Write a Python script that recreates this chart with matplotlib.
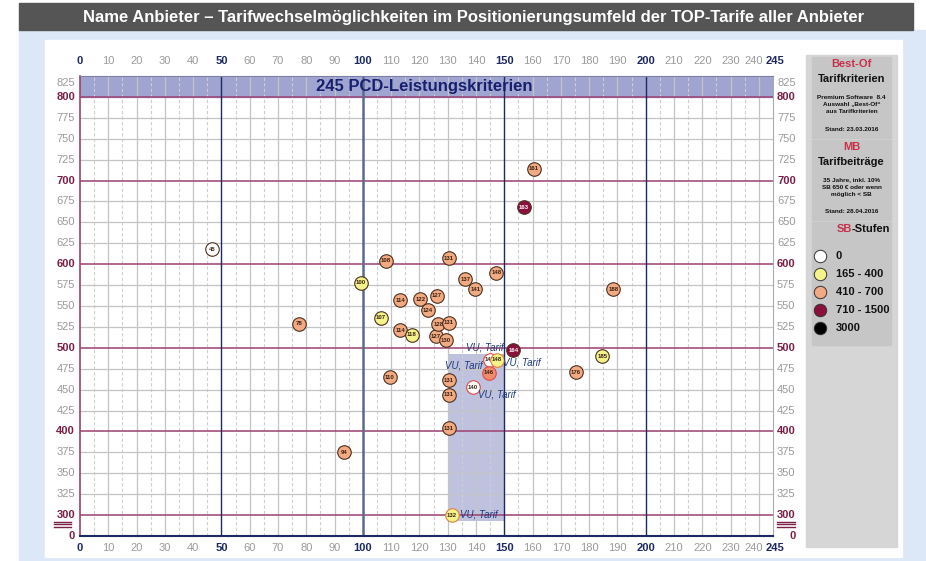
import matplotlib
matplotlib.use('Agg')
import matplotlib.pyplot as plt
from matplotlib.patches import Rectangle
from matplotlib.lines import Line2D
import matplotlib.transforms as mtransforms

plt.rcParams['font.family'] = ['Liberation Sans', 'DejaVu Sans']

# ---------------- data ----------------
title = "Name Anbieter – Tarifwechselmöglichkeiten im Positionierungsumfeld der TOP-Tarife aller Anbieter"
band_text = "245 PCD-Leistungskriterien"

point_labels = ["45", "78", "94", "100", "107", "108", "110", "114", "114", "118",
                "122", "124", "127", "127", "128", "130", "131", "131", "131", "131",
                "131", "132", "137", "140", "141", "145", "146", "148", "148", "161",
                "163", "164", "176", "185", "188"]
point_x = [46.6, 77.5, 93.3, 99.2, 106.4, 108.2, 109.5, 113.2, 113.3, 117.3,
           120.3, 123.0, 126.1, 125.8, 126.7, 129.4, 130.5, 130.5, 130.3, 130.3,
           130.3, 131.4, 136.2, 139.0, 139.8, 144.9, 144.6, 147.3, 147.2, 160.4,
           156.8, 153.2, 175.3, 184.7, 188.6]
point_y = [618, 529, 375, 578, 536, 604, 465, 557, 521, 515.5,
           558, 545, 562, 514, 528, 509, 607, 530, 461, 444,
           404, 300, 582, 453, 570, 486, 470, 486, 590, 714,
           668, 497, 471, 490, 570]
# SB-Stufe category: 0 -> "0", 1 -> "165 - 400", 2 -> "410 - 700", 3 -> "710 - 1500", 4 -> "3000"
point_sb = [0, 2, 2, 1, 1, 2, 2, 2, 2, 1,
            2, 2, 2, 2, 2, 2, 2, 2, 2, 2,
            2, 1, 2, 0, 2, 0, 2, 1, 2, 2,
            3, 3, 2, 1, 2]
# own tariffs of the provider: 1 = marked "VU, Tarif", 2 = own without text
point_own = [0, 0, 0, 0, 0, 0, 0, 0, 0, 0,
             0, 0, 0, 0, 0, 0, 0, 0, 0, 0,
             0, 1, 0, 1, 0, 1, 2, 1, 0, 0,
             0, 1, 0, 0, 0]

sb_names = ["0", "165 - 400", "410 - 700", "710 - 1500", "3000"]

x_ticks = list(range(0, 241, 10)) + [245]
x_bold = [0, 50, 100, 150, 200, 245]
y_ticks = list(range(300, 826, 25))
y_zero_pos = 275
highlight_x = (130, 150)
highlight_y = (293, 493)

# ---------------- style ----------------
sb_colors = ["#ffffff", "#f3f38a", "#f2aa82", "#8c0f3c", "#000000"]
navy = "#1c2a64"
maroon = "#7a1f45"
hline_col = "#9c4070"
gray_lab = "#9a9a9a"

W, H = 926, 561
fig = plt.figure(figsize=(W / 100, H / 100), dpi=100)

# background (pixel coordinates)
bg = fig.add_axes([0, 0, 1, 1], zorder=-5)
bg.set_xlim(0, W)
bg.set_ylim(H, 0)
bg.axis('off')
bg.add_patch(Rectangle((19, 30), W - 19, H - 30, color="#dce8f8"))
bg.add_patch(Rectangle((45, 40), 857, 517, color="white"))
bg.add_patch(Rectangle((19, 3), 894, 27, color="#555555"))
bg.text(474, 17, title, color="white", fontsize=12, fontweight="bold",
        ha="center", va="center")

# legend panel
bg.add_patch(Rectangle((806, 55), 91, 492, color="#d6d6d6"))
for (yy, hh) in [(57, 81), (140, 80), (222, 123)]:
    bg.add_patch(Rectangle((812, yy), 79, hh, color="#c6c6c6"))
crim = "#c8304a"
cx = 851.5
bg.text(cx, 64, "Best-Of", color=crim, fontsize=8, fontweight="bold", ha="center", va="center")
bg.text(cx, 79, "Tarifkriterien", color="#111111", fontsize=8, fontweight="bold", ha="center", va="center")
for yy, t in [(97, "Premium Software  8.4"), (104, "Auswahl „Best-Of“"), (111, "aus Tarifkriterien"),
              (129, "Stand: 23.03.2016")]:
    bg.text(cx, yy, t, color="#111111", fontsize=4.6, fontweight="bold", ha="center", va="center")
bg.text(cx, 147, "MB", color=crim, fontsize=8, fontweight="bold", ha="center", va="center")
bg.text(cx, 162, "Tarifbeiträge", color="#111111", fontsize=8, fontweight="bold", ha="center", va="center")
for yy, t in [(180, "35 Jahre, inkl. 10%"), (187, "SB 650 € oder wenn"), (194, "möglich < SB"),
              (211, "Stand: 28.04.2016")]:
    bg.text(cx, yy, t, color="#111111", fontsize=4.6, fontweight="bold", ha="center", va="center")
bg.text(852, 229, "SB", color=crim, fontsize=8, fontweight="bold", ha="right", va="center")
bg.text(852, 229, "-Stufen", color="#111111", fontsize=8, fontweight="bold", ha="left", va="center")
for i, name in enumerate(sb_names):
    yy = 256 + i * 18
    bg.scatter([820], [yy], s=80, facecolor=sb_colors[i], edgecolor="#333333", linewidth=0.7, zorder=3)
    bg.text(836, yy, name, color="#111111", fontsize=8, fontweight="bold", ha="left", va="center")

# axis break marks
for yy in (521.5, 524.3, 527):
    bg.add_line(Line2D([54, 71], [yy, yy], color=maroon, lw=1.0))
    bg.add_line(Line2D([777, 795], [yy, yy], color=maroon, lw=1.0))

# ---------------- main axes ----------------
ax = fig.add_axes([80 / W, 1 - 536 / H, 693 / W, 460 / H])
ax.set_xlim(0, 245)
ax.set_ylim(y_zero_pos, 825)
ax.set_xticks([])
ax.set_yticks([])

# band at top
ax.axhspan(800, 825, color="#a0a4d0", zorder=0.3)
ax.text(121.8, 812.5, band_text, ha="center", va="center", fontsize=12,
        fontweight="bold", color="#16206e", zorder=4)
# highlight region
ax.add_patch(Rectangle((highlight_x[0], highlight_y[0]), highlight_x[1] - highlight_x[0],
                       highlight_y[1] - highlight_y[0], facecolor="#b4b8da", alpha=0.85,
                       edgecolor="none", zorder=0.4))

# grid
for x in range(5, 245, 10):
    ax.axvline(x, color="#cfcfcf", lw=0.8, ls=(0, (3, 2)), zorder=1)
for x in range(10, 241, 10):
    if x % 50:
        ax.axvline(x, color="#c4c4c4", lw=0.9, zorder=1)
for y in y_ticks:
    if y % 100:
        ax.axhline(y, color="#c4c4c4", lw=0.9, zorder=1)
for y in y_ticks:
    if y % 100 == 0:
        ax.axhline(y, color=hline_col, lw=1.1, zorder=1.5)
for x in (50, 150, 200):
    ax.axvline(x, color=navy, lw=1.0, zorder=1.6)
ax.axvline(100, color="#5b6b8c", lw=1.8, zorder=1.6)

for side, col, lw in [("left", hline_col, 1.2), ("bottom", navy, 1.5),
                      ("right", "#aaaaaa", 0.8), ("top", "#7a7eaa", 0.8)]:
    ax.spines[side].set_color(col)
    ax.spines[side].set_linewidth(lw)

# x tick labels (top and bottom)
xt = ax.get_xaxis_transform()
for v in x_ticks:
    bold = v in x_bold
    dx = -5 if v == 240 else (2 if v == 245 else 0)
    for yax, dy in ((1, 15), (0, -12)):
        tr = mtransforms.offset_copy(xt, fig=fig, x=dx, y=dy, units="dots")
        ax.text(v, yax, str(v), transform=tr, ha="center", va="center", fontsize=8,
                fontweight="bold" if bold else "normal", color=navy if bold else gray_lab,
                clip_on=False)

# y tick labels (left and right)
yt = ax.get_yaxis_transform()
for v in y_ticks + [y_zero_pos]:
    bold = (v % 100 == 0) or v == y_zero_pos
    lab = "0" if v == y_zero_pos else str(v)
    dy = -7 if v == 825 else 0
    kw = dict(va="center", fontsize=8, fontweight="bold" if bold else "normal",
              color=maroon if bold else gray_lab, clip_on=False)
    trl = mtransforms.offset_copy(yt, fig=fig, x=-5, y=dy, units="dots")
    ax.text(0, v, lab, transform=trl, ha="right", **kw)
    if v == y_zero_pos:
        trr = mtransforms.offset_copy(yt, fig=fig, x=23, y=dy, units="dots")
        ax.text(1, v, lab, transform=trr, ha="right", **kw)
    else:
        trr = mtransforms.offset_copy(yt, fig=fig, x=4, y=dy, units="dots")
        ax.text(1, v, lab, transform=trr, ha="left", **kw)

# points
for i, (lab, x, y, sb, own) in enumerate(zip(point_labels, point_x, point_y, point_sb, point_own)):
    ec = "#4a3020"
    fc = sb_colors[sb]
    if own and sb in (0, 2):
        ec = "#e04848"
    elif own and sb == 1:
        ec = "#e08040"
    if own == 2:
        fc = "#f08c6c"
    z = 5 + i * 0.02
    ax.scatter([x], [y], s=95, facecolor=fc, edgecolor=ec, linewidth=0.8, zorder=z)
    ax.text(x, y, lab, ha="center", va="center", fontsize=4.3, fontweight="bold",
            color="white" if sb >= 3 else "#3a2010", zorder=z + 0.01)

# "VU, Tarif" annotations: offsets in pixels per tariff label
vu_offsets = {"164": (-10, 3, "right"), "145": (-7, -6, "right"), "148": (6, -3, "left"),
              "140": (5, -7, "left"), "132": (8, 1, "left")}
for lab, x, y, own in zip(point_labels, point_x, point_y, point_own):
    if own == 1:
        dx, dy, ha = vu_offsets[lab]
        ax.annotate("VU, Tarif", (x, y), xytext=(dx, dy), textcoords="offset pixels",
                    ha=ha, va="center", fontsize=7, style="italic", color="#1f3a7a", zorder=7)

fig.savefig("out.png", dpi=100)
